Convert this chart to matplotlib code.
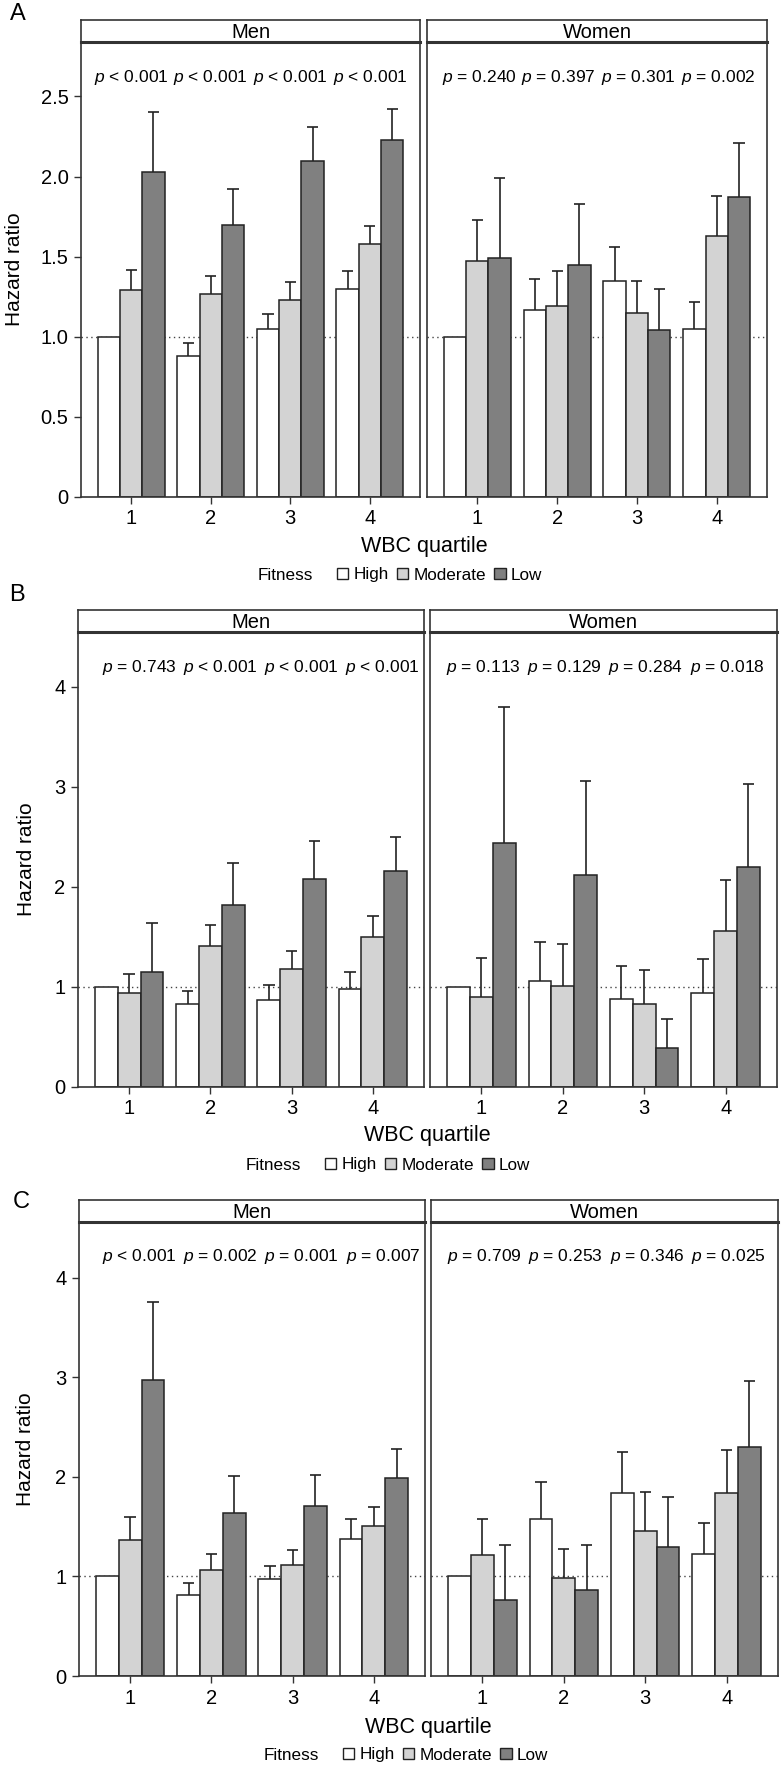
import numpy as np
import matplotlib
matplotlib.use("Agg")
import matplotlib.pyplot as plt
from matplotlib.patches import Patch

plt.rcParams["font.family"] = "Liberation Sans"
plt.rcParams["mathtext.fontset"] = "custom"
plt.rcParams["mathtext.rm"] = "Liberation Sans"
plt.rcParams["mathtext.it"] = "Liberation Sans:italic"

nan = np.nan
quartiles = [1, 2, 3, 4]
fitness = ["High", "Moderate", "Low"]

# hazard ratios, rows = High / Moderate / Low, cols = WBC quartile 1..4
a_men_hr = [[1.00, 0.88, 1.05, 1.30], [1.29, 1.27, 1.23, 1.58], [2.03, 1.70, 2.10, 2.23]]
a_men_up = [[nan, 0.96, 1.14, 1.41], [1.42, 1.38, 1.34, 1.69], [2.40, 1.92, 2.31, 2.42]]
a_women_hr = [[1.00, 1.17, 1.35, 1.05], [1.47, 1.19, 1.15, 1.63], [1.49, 1.45, 1.04, 1.87]]
a_women_up = [[nan, 1.36, 1.56, 1.22], [1.73, 1.41, 1.35, 1.88], [1.99, 1.83, 1.30, 2.21]]

b_men_hr = [[1.00, 0.83, 0.87, 0.98], [0.94, 1.41, 1.18, 1.50], [1.15, 1.82, 2.08, 2.16]]
b_men_up = [[nan, 0.96, 1.02, 1.15], [1.13, 1.62, 1.36, 1.71], [1.64, 2.24, 2.46, 2.50]]
b_women_hr = [[1.00, 1.06, 0.88, 0.94], [0.90, 1.01, 0.83, 1.56], [2.44, 2.12, 0.39, 2.20]]
b_women_up = [[nan, 1.45, 1.21, 1.28], [1.29, 1.43, 1.17, 2.07], [3.80, 3.06, 0.68, 3.03]]

c_men_hr = [[1.00, 0.81, 0.97, 1.38], [1.37, 1.06, 1.11, 1.51], [2.97, 1.64, 1.71, 1.99]]
c_men_up = [[nan, 0.93, 1.10, 1.58], [1.60, 1.23, 1.27, 1.70], [3.76, 2.01, 2.02, 2.28]]
c_women_hr = [[1.00, 1.58, 1.84, 1.23], [1.22, 0.98, 1.46, 1.84], [0.76, 0.86, 1.30, 2.30]]
c_women_up = [[nan, 1.95, 2.25, 1.54], [1.58, 1.28, 1.85, 2.27], [1.32, 1.32, 1.80, 2.96]]

a_men_p = ["< 0.001", "< 0.001", "< 0.001", "< 0.001"]
a_women_p = ["= 0.240", "= 0.397", "= 0.301", "= 0.002"]
b_men_p = ["= 0.743", "< 0.001", "< 0.001", "< 0.001"]
b_women_p = ["= 0.113", "= 0.129", "= 0.284", "= 0.018"]
c_men_p = ["< 0.001", "= 0.002", "= 0.001", "= 0.007"]
c_women_p = ["= 0.709", "= 0.253", "= 0.346", "= 0.025"]

a_yticks = [0, 0.5, 1.0, 1.5, 2.0, 2.5]
a_yticklabels = ["0", "0.5", "1.0", "1.5", "2.0", "2.5"]
bc_yticks = [0, 1, 2, 3, 4]
bc_yticklabels = ["0", "1", "2", "3", "4"]

colors = ["white", "#d3d3d3", "#808080"]
edge = "#222222"
bw = 0.28

W, H = 784, 1766
fig = plt.figure(figsize=(W / 100, H / 100), dpi=100)


def box(x0, y0, x1, y1):
    return [x0 / W, 1 - y1 / H, (x1 - x0) / W, (y1 - y0) / H]


def draw_bars(ax, hr, up, pvals, ylim, p_shift):
    x = np.array(quartiles, dtype=float)
    ax.axhline(1, color="#444444", ls=(0, (1, 2.5)), lw=1, zorder=1)
    for i, col in enumerate(colors):
        xs = x + (i - 1) * bw
        v = np.array(hr[i])
        u = np.array(up[i])
        ax.bar(xs, v, width=bw, color=col, edgecolor=edge, linewidth=1.1, zorder=2)
        m = ~np.isnan(u)
        ax.vlines(xs[m], v[m], u[m], color=edge, lw=1.2, zorder=3)
        ax.hlines(u[m], xs[m] - 0.07, xs[m] + 0.07, color=edge, lw=1.2, zorder=3)
    for q, p in zip(quartiles, pvals):
        ax.text(q + p_shift, 0.923, r"$\it{p}$" + " " + p, transform=ax.get_xaxis_transform(),
                ha="center", va="center", fontsize=12.5)
    ax.set_xlim(0.37, 4.63)
    ax.set_ylim(*ylim)
    ax.set_xticks(quartiles)
    ax.set_xticklabels([str(q) for q in quartiles])
    for s in ax.spines.values():
        s.set_color("#333333")
        s.set_linewidth(1.2)
    ax.tick_params(direction="out", length=5, width=1, color="#333333", labelsize=14.5, pad=4)


def strip(x0, x1, y0, y1, label):
    sax = fig.add_axes(box(x0, y0, x1, y1))
    sax.set_xticks([])
    sax.set_yticks([])
    for s in sax.spines.values():
        s.set_color("#333333")
        s.set_linewidth(1.2)
    sax.spines["bottom"].set_linewidth(2.2)
    sax.text(0.5, 0.45, label, ha="center", va="center", fontsize=14.5, transform=sax.transAxes)


panels = [
    dict(letter="A", lxy=(18, 14), men=(81, 420), women=(427, 767), strip=(20, 42), plot=(42, 497),
         data=(a_men_hr, a_men_up, a_men_p, a_women_hr, a_women_up, a_women_p),
         ylim=(0, 2.84), yt=(a_yticks, a_yticklabels), ylab_x=15, wbc_y=547, leg_y=575, leg_x=337,
         men_shift=0.0),
    dict(letter="B", lxy=(17, 595), men=(78, 424), women=(430, 777), strip=(610, 632), plot=(632, 1087),
         data=(b_men_hr, b_men_up, b_men_p, b_women_hr, b_women_up, b_women_p),
         ylim=(0, 4.55), yt=(bc_yticks, bc_yticklabels), ylab_x=27, wbc_y=1136, leg_y=1165, leg_x=325,
         men_shift=0.12),
    dict(letter="C", lxy=(21, 1202), men=(79, 425), women=(431, 778), strip=(1200, 1222), plot=(1222, 1676),
         data=(c_men_hr, c_men_up, c_men_p, c_women_hr, c_women_up, c_women_p),
         ylim=(0, 4.56), yt=(bc_yticks, bc_yticklabels), ylab_x=26, wbc_y=1727, leg_y=1755, leg_x=343,
         men_shift=0.11),
]

for pn in panels:
    mhr, mup, mp, whr, wup, wp = pn["data"]
    top, bot = pn["plot"]
    axm = fig.add_axes(box(pn["men"][0], top, pn["men"][1], bot))
    axw = fig.add_axes(box(pn["women"][0], top, pn["women"][1], bot))
    draw_bars(axm, mhr, mup, mp, pn["ylim"], pn["men_shift"])
    draw_bars(axw, whr, wup, wp, pn["ylim"], 0.02)
    axm.set_yticks(pn["yt"][0])
    axm.set_yticklabels(pn["yt"][1])
    axw.set_yticks([])
    strip(pn["men"][0], pn["men"][1], pn["strip"][0], pn["strip"][1], "Men")
    strip(pn["women"][0], pn["women"][1], pn["strip"][0], pn["strip"][1], "Women")

    fig.text(pn["lxy"][0] / W, 1 - pn["lxy"][1] / H, pn["letter"], ha="center", va="center", fontsize=17)
    fig.text(pn["ylab_x"] / W, 1 - (top + bot) / 2 / H, "Hazard ratio", rotation=90,
             ha="center", va="center", fontsize=15)
    xc = (pn["men"][0] + pn["women"][1]) / 2
    fig.text(xc / W, 1 - pn["wbc_y"] / H, "WBC quartile", ha="center", va="center", fontsize=15.5)

    handles = [Patch(facecolor=c, edgecolor=edge, linewidth=1) for c in colors]
    fig.legend(handles, fitness, loc="center left", bbox_to_anchor=(pn["leg_x"] / W, 1 - pn["leg_y"] / H),
               ncol=3, frameon=False, fontsize=12.3, handlelength=0.65, handleheight=0.65,
               handletextpad=0.3, columnspacing=0.5, borderpad=0, borderaxespad=0)
    fig.text((pn["leg_x"] - 24) / W, 1 - pn["leg_y"] / H, "Fitness", ha="right", va="center", fontsize=12.3)

fig.savefig("out.png", dpi=100, facecolor="white")
